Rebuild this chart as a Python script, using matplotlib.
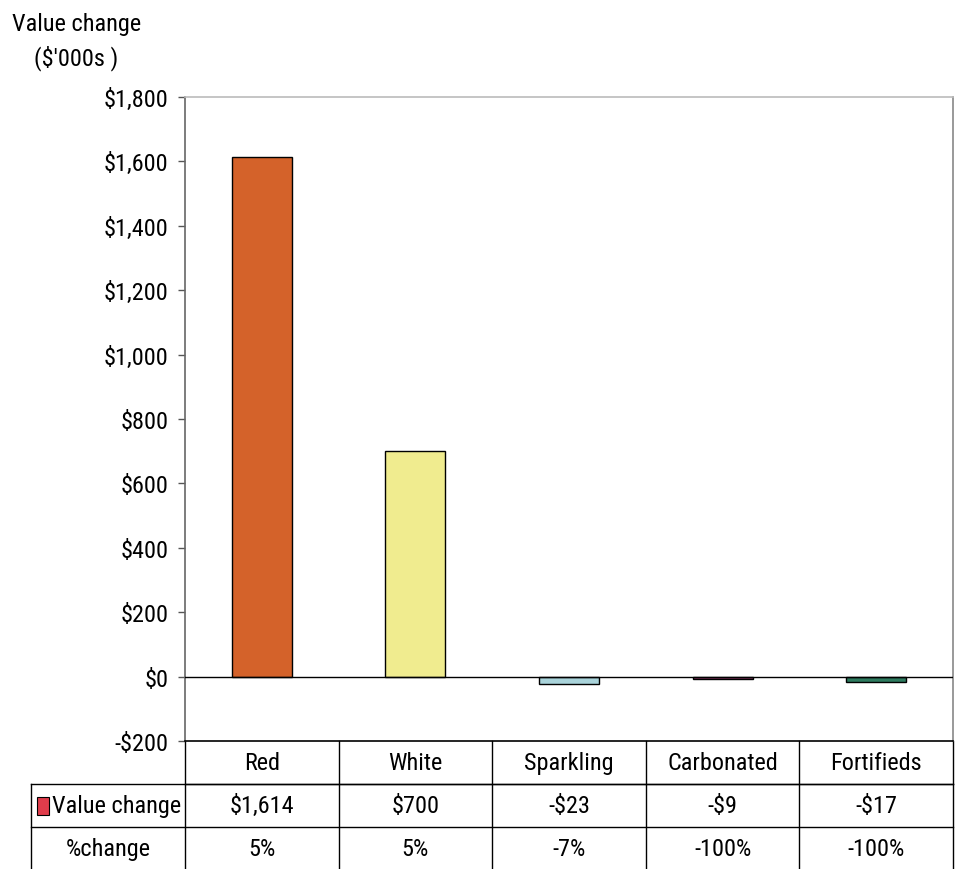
import matplotlib
matplotlib.use("Agg")
import matplotlib.pyplot as plt
from matplotlib import font_manager
from matplotlib.transforms import blended_transform_factory
from matplotlib.patches import Rectangle

# prefer a narrow sans face when one is available
_names = {f.name for f in font_manager.fontManager.ttflist}
_narrow = [n for n in ["Liberation Sans Narrow", "Arial Narrow", "Roboto Condensed",
                       "Open Sans Condensed", "Noto Sans Condensed",
                       "DejaVu Sans Condensed"] if n in _names]
if _narrow:
    FAMILY = [_narrow[0], "DejaVu Sans"]
    FS = 17.5 if _narrow[0] in ("Liberation Sans Narrow", "Arial Narrow", "Roboto Condensed") else 15
else:
    FAMILY = ["Liberation Sans", "DejaVu Sans"]
    FS = 16
plt.rcParams['font.family'] = FAMILY

categories = ["Red", "White", "Sparkling", "Carbonated", "Fortifieds"]
value_change = [1614, 700, -23, -9, -17]
pct_change = ["5%", "5%", "-7%", "-100%", "-100%"]
bar_colors = ["#D4622A", "#F0EC8F", "#A9D3DA", "#9C3B6E", "#2E7B5F"]
yticks = [-200, 0, 200, 400, 600, 800, 1000, 1200, 1400, 1600, 1800]


def money(v):
    return f"-${abs(v):,.0f}" if v < 0 else f"${v:,.0f}"


W, H = 955, 870
fig = plt.figure(figsize=(W / 100, H / 100), dpi=100)
ax = fig.add_axes([185 / W, 1 - 742 / H, (953 - 185) / W, (742 - 98) / H])

x = list(range(len(categories)))
ax.bar(x, value_change, width=0.39, color=bar_colors, edgecolor="black",
       linewidth=1.0, zorder=3)
ax.axhline(0, color="black", linewidth=1.0, zorder=4)

ax.set_xlim(-0.5, len(categories) - 0.5)
ax.set_ylim(-200, 1800)
ax.set_yticks(yticks)
ax.set_yticklabels([money(v) for v in yticks], fontsize=FS)
ax.set_xticks([])
ax.tick_params(axis="y", direction="out", length=5, width=1, color="#555555", pad=7)

ax.spines["left"].set_color("#666666")
ax.spines["right"].set_color("#888888")
ax.spines["top"].set_color("#BBBBBB")
ax.spines["bottom"].set_color("black")
for s in ax.spines.values():
    s.set_linewidth(1.2)

# data table underneath the plot
tr = blended_transform_factory(ax.transData, ax.transAxes)
rh = 43 / 644
n = len(categories)
kw = dict(transform=tr, color="black", linewidth=1.0, clip_on=False)

ax.plot([-0.5, n - 0.5], [-rh, -rh], **kw)
ax.plot([-1.5, n - 0.5], [-rh, -rh], **kw)
ax.plot([-1.5, n - 0.5], [-2 * rh, -2 * rh], **kw)
ax.plot([-1.5, n - 0.5], [-3 * rh, -3 * rh], **kw)
for i in range(n + 1):
    ax.plot([i - 0.5, i - 0.5], [0, -3 * rh], **kw)
ax.plot([-1.5, -1.5], [-rh, -3 * rh], **kw)

for i, c in enumerate(categories):
    ax.text(i, -0.5 * rh, c, transform=tr, ha="center", va="center", fontsize=FS)
    ax.text(i, -1.5 * rh, money(value_change[i]), transform=tr, ha="center",
            va="center", fontsize=FS)
    ax.text(i, -2.5 * rh, pct_change[i], transform=tr, ha="center",
            va="center", fontsize=FS)

# legend key in the row header
ax.add_patch(Rectangle((-1.461, -1.5 * rh - 9 / 644), 0.078, 18 / 644,
                       transform=tr, facecolor="#E03C4B", edgecolor="black",
                       linewidth=0.8, clip_on=False))
ax.text(-1.363, -1.5 * rh, "Value change", transform=tr, ha="left", va="center",
        fontsize=FS)
ax.text(-1.0, -2.5 * rh, "%change", transform=tr, ha="center", va="center",
        fontsize=FS)

fig.text(12 / W, 1 - 24 / H, "Value change", ha="left", va="center", fontsize=FS)
fig.text(34 / W, 1 - 58 / H, "($'000s )", ha="left", va="center", fontsize=FS)

fig.savefig("out.png", dpi=100)
